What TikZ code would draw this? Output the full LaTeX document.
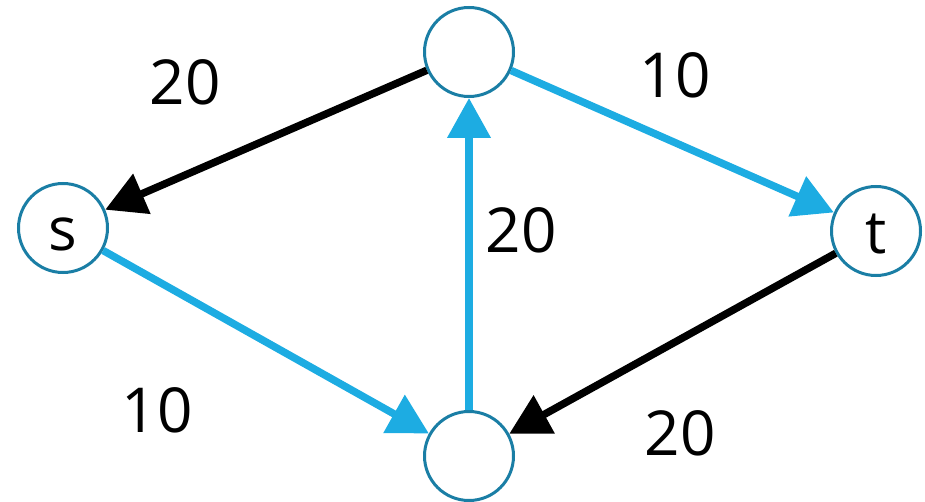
\documentclass[tikz,border=0pt]{standalone}
\usepackage{fontspec}
\setmainfont{Open Sans}
\usetikzlibrary{arrows.meta}
\definecolor{edgeblue}{HTML}{1DACE2}
\definecolor{ringblue}{HTML}{1A7EA5}
\tikzset{
  vtx/.style={circle, draw=ringblue, line width=3pt, fill=white, minimum size=89pt, inner sep=0pt,
    font=\fontsize{60}{62}\selectfont, text height=46pt, text depth=0pt},
  flowedge/.style={line width=7.5pt, draw=edgeblue, -{Triangle[length=40pt,width=42pt]}},
  backedge/.style={line width=7.5pt, draw=black, -{Triangle[length=40pt,width=42pt]}},
  wlabel/.style={font=\fontsize{62}{64}\selectfont, inner sep=0pt}
}
\begin{document}
\begin{tikzpicture}[x=1pt,y=-1pt]
\useasboundingbox (0,0) rectangle (925,502);
\node[vtx] (s) at (63,228) {s};
\node[vtx] (top) at (469,52) {};
\node[vtx] (t) at (876,231) {t};
\node[vtx] (bot) at (469,456) {};
\draw[backedge] (top) -- (s);
\draw[flowedge] (top) -- (t);
\draw[flowedge] (s) -- (bot);
\draw[flowedge] (bot) -- (top);
\draw[backedge] (t) -- (bot);
\node[wlabel] (l1) at (185,82) {20};
\node[wlabel] (l2) at (675,75) {10};
\node[wlabel] (l3) at (521,230) {20};
\node[wlabel] (l4) at (157,410) {10};
\node[wlabel] (l5) at (680,433) {20};
\end{tikzpicture}
\end{document}
